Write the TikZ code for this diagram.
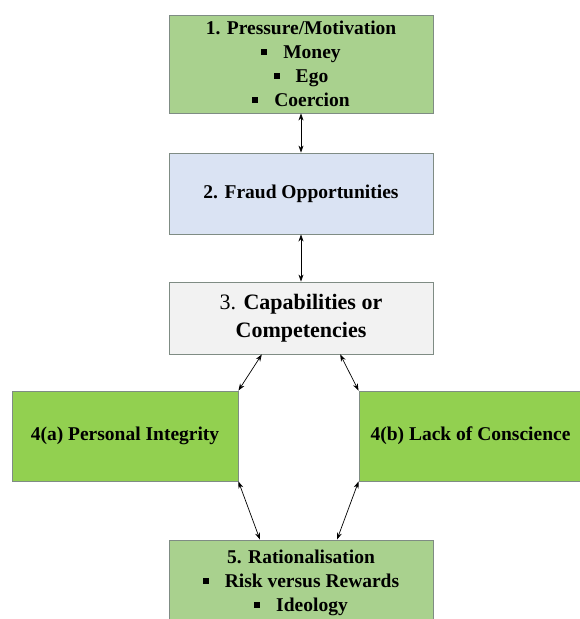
\documentclass[tikz,border=0pt]{standalone}
\usepackage{fontspec}
\setmainfont{Liberation Serif}
\usetikzlibrary{arrows.meta,calc}

\definecolor{verdeclaro}{HTML}{A9D18E}
\definecolor{verdefuerte}{HTML}{92D050}
\definecolor{azulclaro}{HTML}{DAE3F3}
\definecolor{grisclaro}{HTML}{F2F2F2}
\definecolor{borde}{HTML}{7F8C84}

\newcommand{\vineta}{\rule[3.5pt]{6pt}{6pt}\hspace{16pt}}

\begin{document}
\begin{tikzpicture}[x=1pt, y=-1pt,
    caja/.style={draw=borde, line width=0.9pt, align=center, inner sep=0pt,
      font=\fontsize{19.5}{24}\selectfont\bfseries},
    flecha/.style={{Stealth[length=7pt,width=5pt]}-{Stealth[length=7pt,width=5pt]}, line width=0.7pt}]

    \useasboundingbox (0, 0) rectangle (580, 619);

    % Cajas
    \node[caja, fill=verdeclaro, minimum width=264pt, minimum height=98pt] (presion) at (301, 64)
      {1. Pressure/Motivation\\ \vineta Money\\ \vineta Ego\\ \vineta Coercion};
    \node[caja, fill=azulclaro, minimum width=264pt, minimum height=81pt] (oportunidad) at (301, 193.5)
      {2. Fraud Opportunities};
    \node[caja, fill=grisclaro, minimum width=264pt, minimum height=72pt,
      font=\fontsize{22}{28}\selectfont] (capacidad) at (301, 318)
      {3. \textbf{Capabilities or}\\ \textbf{Competencies}};
    \node[caja, fill=verdefuerte, minimum width=226pt, minimum height=90pt] (integridad) at (125, 436)
      {4(a) Personal Integrity};
    \node[caja, fill=verdefuerte, minimum width=223pt, minimum height=90pt] (conciencia) at (470.5, 436)
      {4(b) Lack of Conscience};
    \node[caja, fill=verdeclaro, minimum width=264pt, minimum height=86pt] (racional) at (301, 583)
      {5. Rationalisation\\ \vineta Risk versus Rewards\\ \vineta Ideology};

    % Flechas
    \draw[flecha] (presion.south) -- (oportunidad.north);
    \draw[flecha] (oportunidad.south) -- (capacidad.north);
    \draw[flecha] ($(capacidad.south west)!0.352!(capacidad.south east)$) -- (integridad.north east);
    \draw[flecha] ($(capacidad.south west)!0.648!(capacidad.south east)$) -- (conciencia.north west);
    \draw[flecha] (integridad.south east) -- ($(racional.north west)!0.345!(racional.north east)$);
    \draw[flecha] (conciencia.south west) -- ($(racional.north west)!0.636!(racional.north east)$);

  \end{tikzpicture}
\end{document}
